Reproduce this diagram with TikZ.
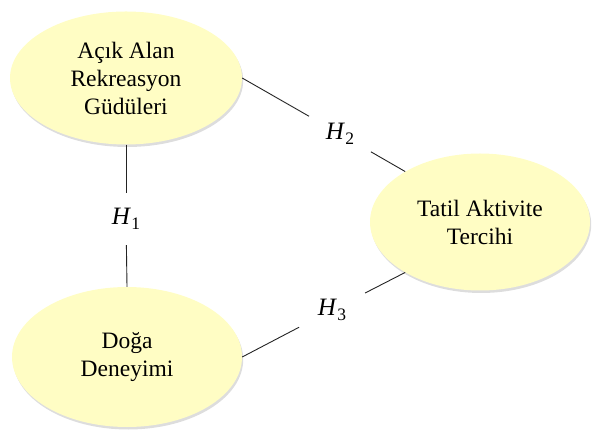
\documentclass[tikz,border=0pt]{standalone}
\usepackage{fontspec}
\setmainfont{Liberation Serif}
\usetikzlibrary{shapes.geometric,shadows}
\definecolor{construct}{RGB}{255,253,196}
\definecolor{linkgray}{RGB}{35,35,35}
% hypothesis symbol: italic H with a lowered upright index
\newcommand{\hypsym}[1]{\textit{H}\kern0.5pt\raisebox{-0.22em}{\fontsize{17.5}{20}\selectfont #1}}
\begin{document}
\begin{tikzpicture}[x=1pt,y=1pt,
  construct/.style={ellipse, fill=construct, inner sep=0pt, align=center,
    font=\fontsize{23.5}{28}\selectfont,
    drop shadow={shadow xshift=1.2pt, shadow yshift=-2.5pt, opacity=0.22, fill=black!60}},
  hyp/.style={circle, inner sep=0pt, font=\fontsize{25}{30}\selectfont},
  link/.style={draw=linkgray, line width=0.9pt}]
\useasboundingbox (0,0) rectangle (593,433);

% constructs
\node[construct, minimum width=232, minimum height=133] (motiv) at (126,355)
  {Açık Alan\\Rekreasyon\\Güdüleri};
\node[construct, minimum width=230, minimum height=140] (nature) at (127,76)
  {Doğa\\Deneyimi};
\node[construct, minimum width=220, minimum height=137] (pref) at (480,211)
  {Tatil Aktivite\\Tercihi};

% hypothesis labels
\node[hyp, minimum size=52] (h1) at (126,214) {\hypsym{1}};
\node[hyp, minimum size=71] (h2) at (340,299) {\hypsym{2}};
\node[hyp, minimum size=74] (h3) at (332,123) {\hypsym{3}};

% paths
\draw[link] (motiv.south) -- (h1);
\draw[link] (h1) -- (nature.north);
\draw[link] (motiv.east) -- (h2);
\draw[link] (h2) -- (pref.146);
\draw[link] (nature.east) -- (h3);
\draw[link] (h3) -- (pref.214);
\end{tikzpicture}
\end{document}
